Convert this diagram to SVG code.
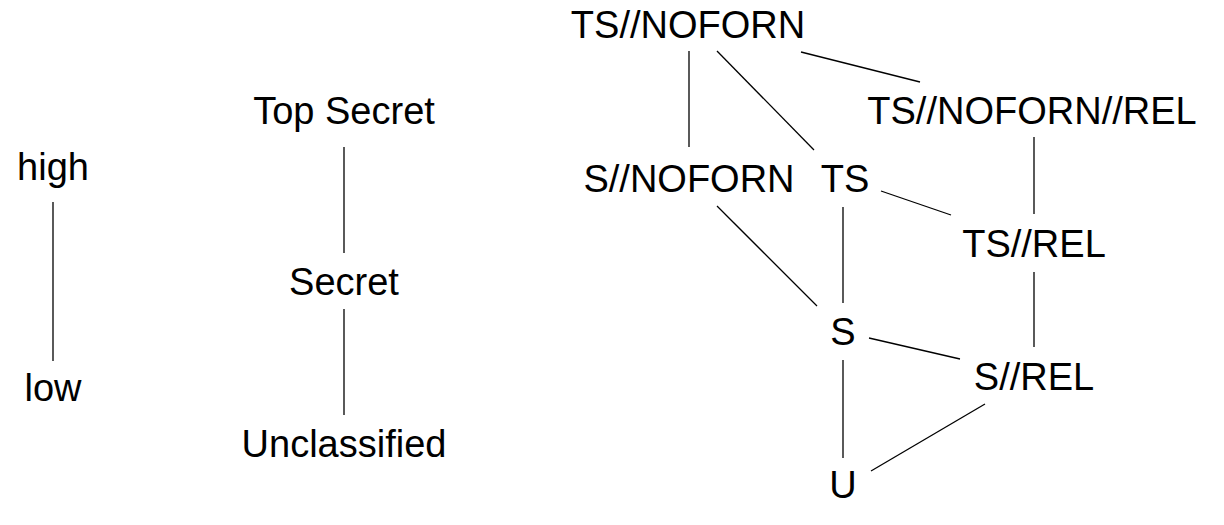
<svg xmlns="http://www.w3.org/2000/svg" width="1224" height="525" viewBox="0 0 1224 525">
<style>
text{font-family:"Liberation Sans",Arial,Helvetica,sans-serif;font-size:38px;fill:#000;text-anchor:middle}
.e line{stroke:#000;stroke-width:1.3}
</style>
<rect width="1224" height="525" fill="#fff"/>
<g id="connectors" class="e">
<line x1="53" y1="202" x2="53" y2="361"/>
<line x1="344" y1="147" x2="344" y2="253"/>
<line x1="344" y1="309" x2="344" y2="415"/>
<line x1="689" y1="51" x2="689" y2="147"/>
<line x1="717" y1="51" x2="814" y2="150"/>
<line x1="801" y1="52" x2="920" y2="82"/>
<line x1="1034" y1="137" x2="1034" y2="214"/>
<line x1="881" y1="191" x2="951" y2="215"/>
<line x1="717" y1="206" x2="817" y2="306"/>
<line x1="843" y1="207" x2="843" y2="303"/>
<line x1="1034" y1="272" x2="1034" y2="347"/>
<line x1="869" y1="338" x2="960" y2="359"/>
<line x1="843" y1="360" x2="843" y2="458"/>
<line x1="985" y1="404" x2="871" y2="471"/>
</g>
<g id="high"><text x="53" y="180">high</text></g>
<g id="low"><text x="53" y="401">low</text></g>
<g id="topsecret"><text x="344" y="124">Top Secret</text></g>
<g id="secret"><text x="344" y="295">Secret</text></g>
<g id="unclassified"><text x="344" y="457">Unclassified</text></g>
<g id="ts_noforn"><text x="688" y="38">TS//NOFORN</text></g>
<g id="ts_noforn_rel"><text x="1032" y="124">TS//NOFORN//REL</text></g>
<g id="s_noforn"><text x="689" y="192">S//NOFORN</text></g>
<g id="ts"><text x="845" y="192">TS</text></g>
<g id="ts_rel"><text x="1034" y="257">TS//REL</text></g>
<g id="s"><text x="843" y="345">S</text></g>
<g id="s_rel"><text x="1034" y="390">S//REL</text></g>
<g id="u"><text x="843" y="498">U</text></g>
</svg>
